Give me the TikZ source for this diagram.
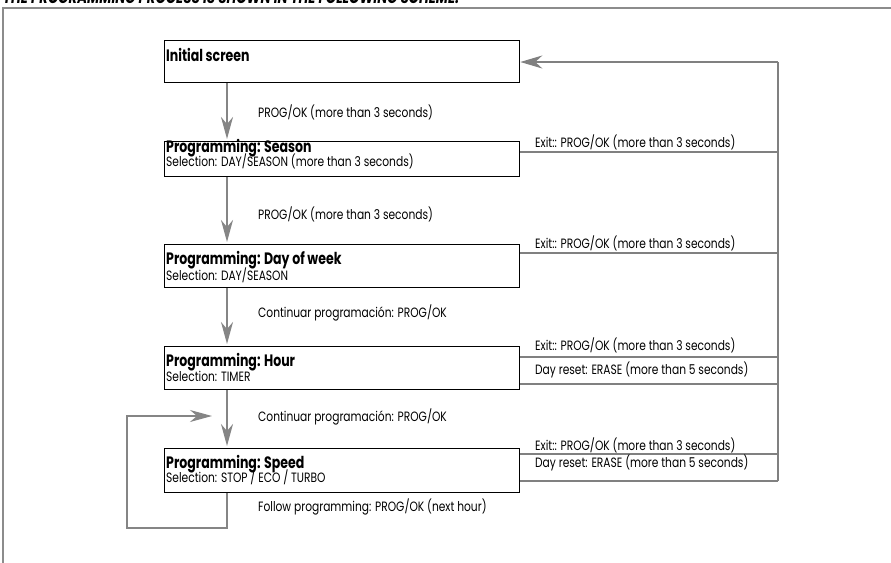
\documentclass[tikz,border=0pt]{standalone}
\usepackage{fontspec}
\setmainfont{Poppins}[FakeStretch=0.79]
\newfontfamily\headfont{Poppins}[FakeStretch=0.76,UprightFont=*-Bold,ItalicFont=*-BoldItalic]
\usetikzlibrary{arrows.meta}

\tikzset{
  frame/.style={draw=black!45, line width=1.6pt},
  box/.style={draw=black, line width=1.3pt, rectangle, inner sep=0pt, anchor=north west},
  flow/.style={draw=black!48, line width=1.8pt, -{Stealth[length=22pt,width=12pt,inset=7pt]}},
  bus/.style={draw=black!50, line width=1.3pt},
  busarrow/.style={bus, -{Stealth[length=22pt,width=13pt,inset=7pt]}},
  ttl/.style={anchor=west, inner sep=0pt, font=\headfont\fontsize{16.5}{17}\selectfont},
  sub/.style={anchor=west, inner sep=0pt, font=\fontsize{13.5}{14}\selectfont},
  lbl/.style={anchor=west, inner sep=0pt, font=\fontsize{13.5}{14}\selectfont},
}

\begin{document}
\begin{tikzpicture}[x=1pt,y=-1pt]
\useasboundingbox (0,0) rectangle (891,562);

% page frame and heading line, cut by the page edge
\begin{scope}
  \clip (0,0) rectangle (891,562);
  \node[anchor=base west, inner sep=0pt, font=\headfont\itshape\fontsize{17.5}{18}\selectfont] (heading) at (3,3)
    {THE PROGRAMMING PROCESS IS SHOWN IN THE FOLLOWING SCHEME:};
  \draw[frame] (3,580) -- (3,8) -- (900,8);
\end{scope}

% state boxes
\node[box, minimum width=355pt, minimum height=42pt] (init)   at (164,40)  {};
\node[box, minimum width=355pt, minimum height=35pt] (season) at (164,141) {};
\node[box, minimum width=355pt, minimum height=43pt] (day)    at (164,244) {};
\node[box, minimum width=355pt, minimum height=43pt] (hour)   at (164,346) {};
\node[box, minimum width=355pt, minimum height=44pt] (speed)  at (164,448) {};

% box texts
\node[ttl] (tInit)   at (166,55)  {Initial screen};
\node[ttl] (tSeason) at (166,148) {Programming: Season};
\node[sub] (sSeason) at (166,161) {Selection: DAY/SEASON (more than 3 seconds)};
\node[ttl] (tDay)    at (166,260) {Programming: Day of week};
\node[sub] (sDay)    at (166,275) {Selection: DAY/SEASON};
\node[ttl] (tHour)   at (166,362) {Programming: Hour};
\node[sub] (sHour)   at (166,376) {Selection: TIMER};
\node[ttl] (tSpeed)  at (166,464) {Programming: Speed};
\node[sub] (sSpeed)  at (166,477) {Selection: STOP / ECO / TURBO};

% main flow
\coordinate (ax) at (227,0);
\draw[flow, shorten >=2pt] (init.south -| ax)   -- (season.north -| ax);
\draw[flow, shorten >=2pt] (season.south -| ax) -- (day.north -| ax);
\draw[flow, shorten >=2pt] (day.south -| ax)    -- (hour.north -| ax);
\draw[flow, shorten >=2pt] (hour.south -| ax)   -- (speed.north -| ax);

\node[lbl] (l1) at (258,112) {PROG/OK (more than 3 seconds)};
\node[lbl] (l2) at (258,214) {PROG/OK (more than 3 seconds)};
\node[lbl] (l3) at (258,313) {Continuar programación: PROG/OK};
\node[lbl] (l4) at (258,417) {Continuar programación: PROG/OK};
\node[lbl] (l5) at (258,507) {Follow programming: PROG/OK (next hour)};

% loop back into the speed step
\coordinate (loopB) at (127,528);
\coordinate (loopT) at (212,416);
\draw[flow, line width=1.3pt] (speed.south -| ax) -- (ax |- loopB) -- (loopB) -- (loopB |- loopT) -- (loopT);

% exit bus on the right
\coordinate (busTop) at (778,62);
\coordinate (busBot) at (778,481);
\draw[bus] (busTop) -- (busBot);
\draw[busarrow] (busTop) -- (init.east |- busTop);

\coordinate (e1) at (778,152);
\coordinate (e2) at (778,253);
\coordinate (e3) at (778,357);
\coordinate (r3) at (778,384);
\coordinate (e4) at (778,454);
\draw[bus] (e1) -- (season.east |- e1);
\draw[bus] (e2) -- (day.east |- e2);
\draw[bus] (e3) -- (hour.east |- e3);
\draw[bus] (r3) -- (hour.east |- r3);
\draw[bus] (e4) -- (speed.east |- e4);
\draw[bus] (busBot) -- (speed.east |- busBot);

\node[lbl] (x1) at (535,142) {Exit:: PROG/OK (more than 3 seconds)};
\node[lbl] (x2) at (535,243) {Exit:: PROG/OK (more than 3 seconds)};
\node[lbl] (x3) at (535,345) {Exit:: PROG/OK (more than 3 seconds)};
\node[lbl] (d3) at (535,370) {Day reset: ERASE (more than 5 seconds)};
\node[lbl] (x4) at (535,445) {Exit:: PROG/OK (more than 3 seconds)};
\node[lbl] (d4) at (535,463) {Day reset: ERASE (more than 5 seconds)};
\end{tikzpicture}
\end{document}
